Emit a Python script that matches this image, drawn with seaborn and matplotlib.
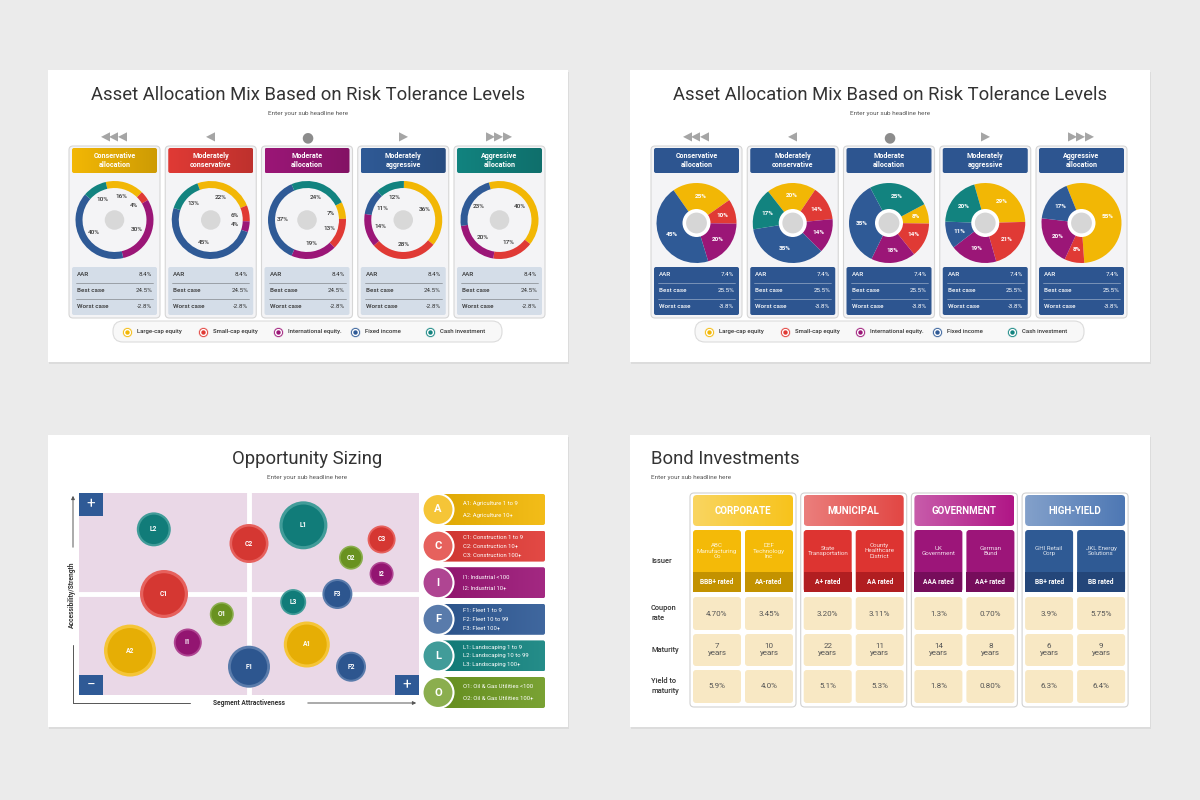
import numpy as np
import pandas as pd
import matplotlib.pyplot as plt
from matplotlib.patches import Rectangle, FancyBboxPatch, Circle
from matplotlib.colors import LinearSegmentedColormap, to_rgb
import seaborn as sns

# ---------------- data: asset allocation (top panels) ----------------
risk_levels = ["Conservative\nallocation", "Moderately\nconservative", "Moderate\nallocation",
               "Moderately\naggressive", "Aggressive\nallocation"]
risk_arrows = ["◀◀◀", "◀", "●", "▶", "▶▶▶"]
asset_classes = ["Large-cap equity", "Small-cap equity", "International equity.",
                 "Fixed income", "Cash investment"]
donut_mix = [[16, 4, 30, 40, 10],
             [22, 6, 4, 45, 13],
             [7, 13, 19, 37, 24],
             [36, 28, 14, 11, 12],
             [40, 17, 20, 23, 0]]
pie_mix = [[25, 10, 20, 45, 0],
           [20, 14, 14, 35, 17],
           [8, 14, 18, 35, 25],
           [29, 21, 19, 11, 20],
           [55, 8, 20, 17, 0]]
stat_names = ["AAR", "Best case", "Worst case"]
donut_stats = ["8.4%", "24.5%", "-2.8%"]
pie_stats = ["7.4%", "25.5%", "-3.8%"]

# ---------------- data: opportunity sizing ----------------
bubble_ids = ["L2", "C2", "L1", "C3", "O2", "I2", "C1", "F3", "L3", "O1", "A2", "I1", "A1", "F1", "F2"]
bubble_group = ["L", "C", "L", "C", "O", "I", "C", "F", "L", "O", "A", "I", "A", "F", "F"]
attractiveness = [22, 50, 66, 89, 80, 89, 25, 76, 63, 42, 15, 32, 67, 50, 80]
accessibility = [82, 75, 84, 77, 68, 60, 50, 50, 46, 40, 22, 26, 25, 14, 14]
opportunity = [289, 380, 576, 196, 144, 144, 576, 225, 169, 144, 676, 196, 529, 441, 225]
segment_keys = ["A", "C", "I", "F", "L", "O"]
segment_notes = [["A1: Agriculture 1 to 9", "A2: Agriculture 10+"],
                 ["C1: Construction 1 to 9", "C2: Construction 10+", "C3: Construction 100+"],
                 ["I1: Industrial <100", "I2: Industrial 10+"],
                 ["F1: Fleet 1 to 9", "F2: Fleet 10 to 99", "F3: Fleet 100+"],
                 ["L1: Landscaping 1 to 9", "L2: Landscaping 10 to 99", "L3: Landscaping 100+"],
                 ["O1: Oil & Gas Utilities <100", "O2: Oil & Gas Utilities 100+"]]

# ---------------- data: bond investments ----------------
bond_types = ["CORPORATE", "MUNICIPAL", "GOVERNMENT", "HIGH-YIELD"]
issuers = ["ABC\nManufacturing\nCo", "DEF\nTechnology\nInc", "State\nTransportation",
           "County\nHealthcare\nDistrict", "UK\nGovernment", "German\nBund",
           "GHI Retail\nCorp", "JKL Energy\nSolutions"]
ratings = ["BBB+ rated", "AA-rated", "A+ rated", "AA rated", "AAA rated", "AA+ rated",
           "BB+ rated", "BB rated"]
coupon_rate = ["4.70%", "3.45%", "3.20%", "3.11%", "1.3%", "0.70%", "3.9%", "5.75%"]
maturity_years = [7, 10, 22, 11, 14, 8, 6, 9]
yield_to_maturity = ["5.9%", "4.0%", "5.1%", "5.3%", "1.8%", "0.80%", "6.3%", "6.4%"]
row_labels = ["Issuer", "Coupon\nrate", "Maturity", "Yield to\nmaturity"]

# ---------------- style ----------------
YEL, RED, PUR, BLU, TEA, GRN = "#F2B705", "#E03A35", "#9B1677", "#2F5A96", "#12837F", "#6E9A22"
asset_colors = [YEL, RED, PUR, BLU, TEA]
header_colors = [YEL, RED, PUR, BLU, TEA]
segment_colors = dict(zip(segment_keys, [YEL, RED, PUR, BLU, TEA, GRN]))
bond_colors = [("#F7C31C", "#F4BA08", "#C39200"), ("#E24744", "#DD3431", "#B11E21"),
               ("#B01686", "#9C1579", "#760D5B"), ("#4E78B4", "#2F5A94", "#244679")]
donut_start = [103, 110, 27, 89, 106]
pie_start = [125, 128, 28, 106, 112]

sns.set_theme(style="white")
plt.rcParams["font.family"] = ["Roboto", "DejaVu Sans"]
DARK = "#333333"


def shade(c, f):
    r, g, b = to_rgb(c)
    if f >= 0:
        return (r + (1 - r) * f, g + (1 - g) * f, b + (1 - b) * f)
    return (r * (1 + f), g * (1 + f), b * (1 + f))


fig = plt.figure(figsize=(12, 8), dpi=100)
fig.patch.set_facecolor("#ebebeb")
bg = fig.add_axes([0, 0, 1, 1])
bg.axis("off")


def inset(x, y, w, h):
    return fig.add_axes([x / 1200, 1 - (y + h) / 800, w / 1200, h / 800])


def rbox(x, y, w, h, fc, ec="none", r=3, lw=0.8, z=2):
    p = FancyBboxPatch((x, y), w, h, boxstyle=f"round,pad=0,rounding_size={r}",
                       fc=fc, ec=ec, lw=lw, zorder=z)
    bg.add_patch(p)
    return p


def gradient_box(x, y, w, h, c1, c2, r=3, z=3):
    p = rbox(x, y, w, h, "none", r=r, z=z)
    cmap = LinearSegmentedColormap.from_list("g", [c1, c2])
    im = bg.imshow(np.linspace(0, 1, 64)[None, :], cmap=cmap, extent=(x, x + w, y + h, y),
                   aspect="auto", zorder=z, interpolation="bilinear")
    im.set_clip_path(p)


# white panels
for px, py in [(48, 70), (630, 70), (48, 435), (630, 435)]:
    bg.add_patch(Rectangle((px + 1, py + 2), 520, 292, fc="#dcdcdc", ec="none", zorder=0))
    bg.add_patch(Rectangle((px, py), 520, 292, fc="white", ec="none", zorder=1))


# ---------------- top panels ----------------
def draw_allocation(ox, mixes, starts, heads, stats, stat_fc, stat_tc, donut):
    bg.text(ox + 260, 95, "Asset Allocation Mix Based on Risk Tolerance Levels", ha="center",
            va="center", fontsize=13.3, color=DARK, zorder=5)
    bg.text(ox + 260, 114, "Enter your sub headline here", ha="center", va="center",
            fontsize=4.6, color="#555555", zorder=5)
    for i, level in enumerate(risk_levels):
        cx0 = ox + 21 + i * 96.25
        mid = cx0 + 45.5
        bg.text(mid, 137, risk_arrows[i], ha="center", va="center",
                fontsize=8.5 if i != 2 else 10, color="#a5a5a5" if i != 2 else "#8c8c8c", zorder=5)
        rbox(cx0, 146, 91, 172, "#f4f4f6", ec="#d6d6d6", r=4, z=2)
        if donut:
            gradient_box(cx0 + 3, 148, 85, 25, heads[i], shade(heads[i], -0.15), r=2, z=3)
        else:
            rbox(cx0 + 3, 148, 85, 25, heads[i], r=2, z=3)
        bg.text(mid, 160.5, level, ha="center", va="center", fontsize=5.1, color="white",
                fontweight="bold", linespacing=1.15, zorder=5)
        rbox(cx0 + 3, 267, 85, 48, stat_fc, r=2, z=3)
        for k, (name, val) in enumerate(zip(stat_names, stats)):
            yy = [274, 291, 307][k]
            bg.text(cx0 + 8, yy, name, ha="left", va="center", fontsize=4.5, color=stat_tc,
                    fontweight="medium", zorder=5)
            bg.text(cx0 + 83, yy, val, ha="right", va="center", fontsize=4.5, color=stat_tc,
                    zorder=5)
        for ly in [282.5, 299]:
            bg.plot([cx0 + 7, cx0 + 84], [ly, ly], color=stat_tc, lw=0.5, alpha=0.5, zorder=4)

        r = 39 if donut else 40
        cy = 220 if donut else 223
        ax = inset(mid - r * 1.05, cy - r * 1.05, r * 2.1, r * 2.1)
        wp = dict(linewidth=0)
        if donut:
            wp["width"] = 0.18
        wedges, _ = ax.pie(mixes[i], colors=asset_colors, startangle=starts[i],
                           counterclock=False, wedgeprops=wp)
        ax.set_xlim(-1.05, 1.05)
        ax.set_ylim(-1.05, 1.05)
        rl = 0.62 if donut else 0.68
        for w, v in zip(wedges, mixes[i]):
            if v == 0:
                continue
            a = np.deg2rad((w.theta1 + w.theta2) / 2)
            ax.text(rl * np.cos(a), rl * np.sin(a), f"{v}%", ha="center", va="center",
                    fontsize=4.6, color=DARK if donut else "white",
                    fontweight="medium" if donut else "bold")
        if donut:
            ax.add_patch(Circle((0, 0), 0.25, fc="#d8d8d8", ec="none"))
        else:
            ax.add_patch(Circle((0, 0), 0.35, fc="white", ec="none"))
            ax.add_patch(Circle((0, 0), 0.26, fc="#d6d6d6", ec="none"))

    # legend pill
    rbox(ox + 65, 321, 389, 21, "#f8f8f8", ec="#dcdcdc", r=10, z=2)
    for j, name in enumerate(asset_classes):
        lx = ox + [79, 155, 230, 307, 382][j]
        bg.scatter(lx, 331.5, s=55, color=shade(asset_colors[j], 0.75), zorder=4, lw=0)
        bg.scatter(lx, 331.5, s=34, facecolor="white", edgecolor=asset_colors[j], lw=0.6, zorder=5)
        bg.scatter(lx, 331.5, s=10, color=asset_colors[j], zorder=6, lw=0)
        bg.text(lx + 10, 331.5, name, ha="left", va="center", fontsize=4.3, color=DARK,
                fontweight="medium", zorder=6)


draw_allocation(48, donut_mix, donut_start, header_colors, donut_stats, "#d4dde8", DARK, True)
draw_allocation(630, pie_mix, pie_start, ["#2D5590"] * 5, pie_stats, "#2D5590", "white", False)

# ---------------- opportunity sizing ----------------
bg.text(307, 459, "Opportunity Sizing", ha="center", va="center", fontsize=13.3, color=DARK, zorder=5)
bg.text(307, 478, "Enter your sub headline here", ha="center", va="center", fontsize=4.6,
        color="#555555", zorder=5)

bubbles = pd.DataFrame({"id": bubble_ids, "segment": bubble_group, "x": attractiveness,
                        "y": accessibility, "size": opportunity})
sax = inset(79, 493, 340, 202)
sax.set_facecolor("#ead8e7")
sax.axvline(50, color="white", lw=3.5, zorder=1)
sax.axhline(50, color="white", lw=3.5, zorder=1)
max_area = (1.44 * 26) ** 2
sns.scatterplot(data=bubbles, x="x", y="y", hue="segment", size="size", ax=sax,
                palette={k: shade(c, 0.2) for k, c in segment_colors.items()},
                sizes=(0, max_area), size_norm=(0, 676), legend=False, linewidth=0, zorder=3)
sns.scatterplot(data=bubbles, x="x", y="y", hue="segment", size="size", ax=sax,
                palette={k: shade(c, -0.05) for k, c in segment_colors.items()},
                sizes=(0, max_area * 0.75), size_norm=(0, 676),
                legend=False, linewidth=0, zorder=4)
for _, row in bubbles.iterrows():
    sax.text(row["x"], row["y"], row["id"], ha="center", va="center", fontsize=4.9,
             color="white", fontweight="bold", zorder=5)
sax.set(xlim=(0, 100), ylim=(0, 100), xlabel="", ylabel="", xticks=[], yticks=[])
for sp in sax.spines.values():
    sp.set_visible(False)
for (ax0, ay0, sym) in [(0, 1 - 23 / 202, "+"), (0, 0, "−"), (1 - 24 / 340, 0, "+")]:
    sax.add_patch(Rectangle((ax0, ay0), 24 / 340, 23 / 202 if sym == "+" and ay0 > 0 else 20 / 202,
                            transform=sax.transAxes, fc=BLU, ec="none", zorder=6))
    sax.text(ax0 + 12 / 340, ay0 + (11.5 if ay0 > 0 else 10) / 202, sym, transform=sax.transAxes,
             ha="center", va="center", fontsize=11, color="white", zorder=7)

# axis arrows
bg.plot([73, 73], [703, 645], color="#555555", lw=0.7, zorder=4)
bg.annotate("", xy=(73, 493), xytext=(73, 550),
            arrowprops=dict(arrowstyle="-|>", color="#555555", lw=0.7, mutation_scale=5), zorder=4)
bg.text(72, 595, "Accessibility/Strength", rotation=90, ha="center", va="center", fontsize=4.8,
        color=DARK, fontweight="bold", zorder=5)
bg.plot([73, 190], [703, 703], color="#555555", lw=0.7, zorder=4)
bg.annotate("", xy=(419, 703), xytext=(305, 703),
            arrowprops=dict(arrowstyle="-|>", color="#555555", lw=0.7, mutation_scale=5), zorder=4)
bg.text(249, 703, "Segment Attractiveness", ha="center", va="center", fontsize=4.8, color=DARK,
        fontweight="bold", zorder=5)

# segment legend
for i, key in enumerate(segment_keys):
    c = segment_colors[key]
    top = 494 + i * 36.6
    yc = top + 15.5
    gradient_box(436, top, 109, 31, shade(c, -0.08), shade(c, 0.08), r=2, z=3)
    bg.add_patch(Circle((438, yc), 15.5, fc=shade(c, 0.2), ec="white", lw=1.5, zorder=4))
    bg.text(438, yc, key, ha="center", va="center", fontsize=8, color="white",
            fontweight="bold", zorder=5)
    notes = segment_notes[i]
    step = 8.7 if len(notes) == 3 else 11
    for k, note in enumerate(notes):
        bg.text(463, yc + (k - (len(notes) - 1) / 2) * step, note, ha="left", va="center",
                fontsize=4.2, color="white", zorder=5)

# ---------------- bond investments ----------------
bg.text(651, 459, "Bond Investments", ha="left", va="center", fontsize=13.3, color=DARK, zorder=5)
bg.text(651, 478, "Enter your sub headline here", ha="left", va="center", fontsize=4.6,
        color="#555555", zorder=5)
for label, ly in zip(row_labels, [561, 613, 650, 686]):
    bg.text(651, ly, label, ha="left", va="center", fontsize=5.4, color=DARK,
            fontweight="medium", linespacing=1.3, zorder=5)

value_rows = [coupon_rate, [f"{m}\nyears" for m in maturity_years], yield_to_maturity]
row_boxes = [(597, 33), (634, 32), (670, 33)]
for g, btype in enumerate(bond_types):
    gx = 690 + g * 110.7
    hc, ic, rc = bond_colors[g]
    rbox(gx, 493, 106, 214, "white", ec="#d2d2d2", r=4, z=2)
    gradient_box(gx + 3, 495, 100, 31, shade(hc, 0.3), hc, r=4, z=3)
    bg.text(gx + 53, 510.5, btype, ha="center", va="center", fontsize=7, color="white",
            fontweight="bold", zorder=5)
    for j in range(2):
        n = g * 2 + j
        sx = gx + 3 + j * 52
        rbox(sx, 530, 48, 62, ic, r=3, z=3)
        bg.add_patch(Rectangle((sx, 572), 48, 20, fc=rc, ec="none", zorder=4))
        bg.text(sx + 24, 551, issuers[n], ha="center", va="center", fontsize=4.5,
                color=(1, 1, 1, 0.85), linespacing=1.1, zorder=5)
        bg.text(sx + 24, 582, ratings[n], ha="center", va="center", fontsize=4.8, color="white",
                fontweight="bold", zorder=5)
        for vals, (ry, rh) in zip(value_rows, row_boxes):
            rbox(sx, ry, 48, rh, "#f8e8c4", r=3, z=3)
            bg.text(sx + 24, ry + rh / 2, vals[n], ha="center", va="center", fontsize=5.8,
                    color="#555555", linespacing=1.2, zorder=5)

bg.set_xlim(0, 1200)
bg.set_ylim(800, 0)
fig.savefig("out.png", dpi=100, facecolor=fig.get_facecolor())
